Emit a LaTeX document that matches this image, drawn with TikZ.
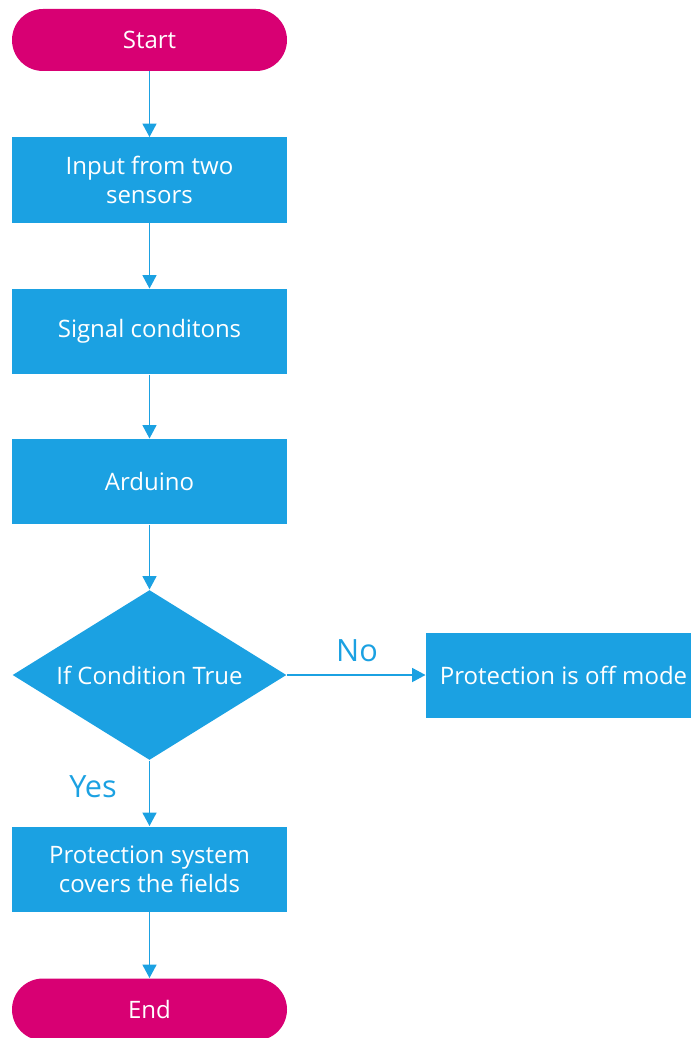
\documentclass[tikz,border=0pt]{standalone}
\usepackage{fontspec}
\setmainfont{Open Sans}
\usetikzlibrary{shapes.geometric,arrows.meta}
\definecolor{flowblue}{HTML}{1BA1E2}
\definecolor{flowpink}{HTML}{D80073}
\tikzset{every picture/.style={line width=0.75pt}}
\tikzset{
	procbox/.style={fill=flowblue, text=white, minimum width=206.25pt, minimum height=63.75pt, inner sep=0.75pt, align=center, font=\fontsize{18}{22}\selectfont},
	termbox/.style={fill=flowpink, text=white, minimum width=206.25pt, minimum height=46.5pt, rounded corners=23.25pt, inner sep=0.75pt, font=\fontsize{18}{22}\selectfont},
	decbox/.style={shape=diamond, fill=flowblue, text=white, minimum width=205.5pt, minimum height=127.5pt, inner sep=0pt, font=\fontsize{18}{22}\selectfont},
	flowline/.style={draw=flowblue, line width=1pt, -{Triangle[width=10.5pt,length=10pt]}},
	branchlbl/.style={text=flowblue, inner sep=0.75pt, font=\fontsize{23}{26}\selectfont}
}

\begin{document}
\begin{tikzpicture}[x=0.75pt,y=0.75pt,yscale=-1,xscale=1]
	\useasboundingbox (0,0) rectangle (691,1038);
	\clip (0,0) rectangle (691,1038);
	
	%Shape: Terminator [id:start]
	\node[termbox] (start) at (149.5,40) {Start};
	%Shape: Rectangle [id:input]
	\node[procbox] (input) at (149.5,180) {Input from two\\sensors};
	%Shape: Rectangle [id:signal]
	\node[procbox] (signal) at (149.5,331.5) {Signal conditons};
	%Shape: Rectangle [id:arduino]
	\node[procbox] (arduino) at (149.5,481.5) {Arduino};
	%Shape: Diamond [id:cond]
	\node[decbox] (cond) at (149.5,675) {\makebox[0pt]{If Condition True}};
	%Shape: Rectangle [id:offmode]
	\node[procbox] (offmode) at (563.5,675) {Protection is off mode};
	%Shape: Rectangle [id:protect]
	\node[procbox] (protect) at (149.5,869) {Protection system\\covers the fields};
	%Shape: Terminator [id:finish]
	\node[termbox] (finish) at (149.5,1009.5) {End};
	
	%Straight Lines
	\draw[flowline] (start) -- (input);
	\draw[flowline] (input) -- (signal);
	\draw[flowline] (signal) -- (arduino);
	\draw[flowline] (arduino) -- (cond);
	\draw[flowline] (cond.east) -- (offmode.west);
	\draw[flowline] (cond.south) -- (protect);
	\draw[flowline] (protect) -- (finish);
	
	% Text Node
	\node[branchlbl] (nolbl) at (357,651) {No};
	% Text Node
	\node[branchlbl] (yeslbl) at (93,787) {Yes};
	
\end{tikzpicture}
\end{document}
